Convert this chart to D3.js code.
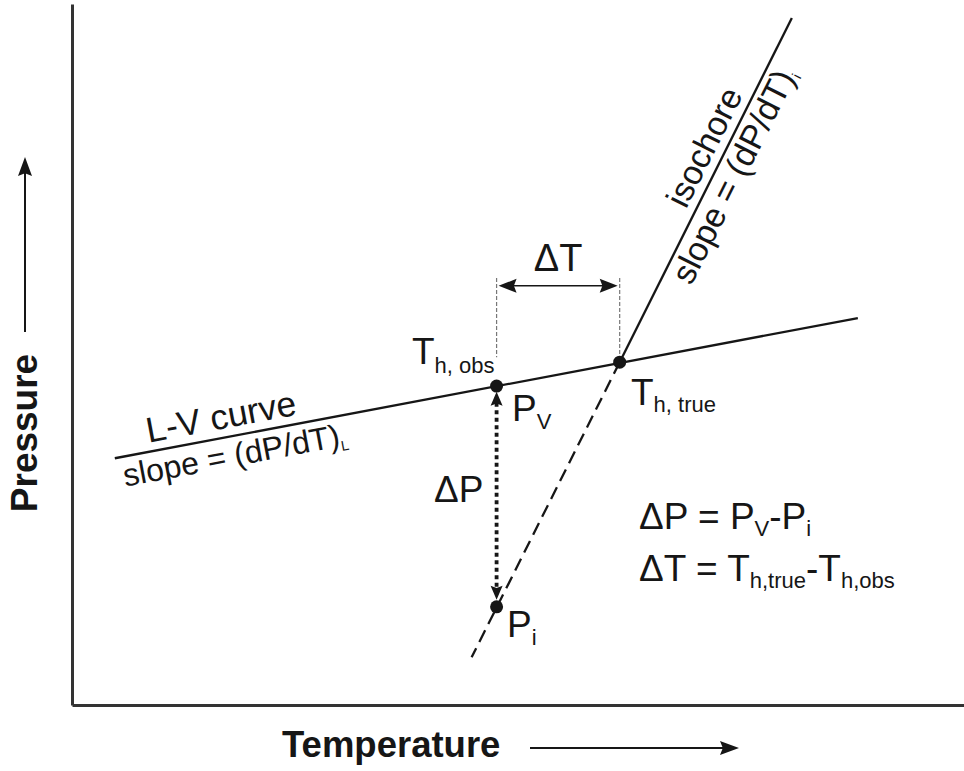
<!DOCTYPE html>
<html>
<head>
<meta charset="utf-8">
<script src="https://cdn.jsdelivr.net/npm/d3@7"></script>
<style>
  body { margin: 0; background: #fff; }
  text { font-family: "Liberation Sans", Arial, sans-serif; fill: #161616; }
</style>
</head>
<body>
<div id="chart"></div>
<script>
// schematic values, arbitrary units: T across, P up, both 0-100
var lvCurve = [[4.8, 35.2], [88.1, 55.2]];
var isochore = [[61.4, 48.9], [80.7, 98.0]];
var isochoreExt = [[61.4, 48.9], [44.8, 6.8]];
var dots = [[47.6, 45.5], [61.4, 48.9], [47.6, 14.0]];
var deltaT = [[47.6, 59.8], [61.4, 59.8]];
var guides = [[[47.6, 60.9], [47.6, 49.6]], [[61.4, 60.9], [61.4, 50.0]]];
var deltaP = [[47.6, 44.7], [47.6, 15.0]];

var svgWidth = 964;
var svgHeight = 771;
var margin = {top: 4, right: 0, bottom: 66, left: 72};
var ink = "#161616";

var svg = d3.select("#chart").append("svg")
  .attr("width", svgWidth)
  .attr("height", svgHeight);

var x = d3.scaleLinear().domain([0, 100]).range([margin.left, svgWidth - margin.right]);
var y = d3.scaleLinear().domain([0, 100]).range([svgHeight - margin.bottom, margin.top]);
var line = d3.line().x(d => x(d[0])).y(d => y(d[1]));

// filled arrow head, tip at (tx,ty) pointing away from (fx,fy)
function head(fx, fy, tx, ty, len, wid) {
  var a = Math.atan2(ty - fy, tx - fx);
  var c = Math.cos(a), s = Math.sin(a);
  var bx = tx - c * len, by = ty - s * len;
  var nx = tx - c * len * 0.85, ny = ty - s * len * 0.85;
  svg.append("path")
    .attr("d", `M${tx},${ty} L${bx - s * wid / 2},${by + c * wid / 2} L${nx},${ny} L${bx + s * wid / 2},${by - c * wid / 2} Z`)
    .attr("fill", ink);
}
function arrow(x1, y1, x2, y2, len, wid, both) {
  head(x1, y1, x2, y2, len, wid);
  if (both) head(x2, y2, x1, y1, len, wid);
}

// axes, no ticks
var xAxis = d3.axisBottom(x).tickValues([]).tickSizeOuter(0);
var yAxis = d3.axisLeft(y).tickValues([]).tickSizeOuter(0);
svg.append("g").attr("transform", `translate(0,${y(0)})`).call(xAxis);
svg.append("g").attr("transform", `translate(${x(0)},0)`).call(yAxis);
svg.selectAll(".domain").attr("stroke", "#333").attr("stroke-width", 3);

// axis titles with arrows
svg.append("text")
  .attr("transform", `translate(37,${y(38.8)}) rotate(-90)`)
  .attr("text-anchor", "middle")
  .attr("font-size", 37).attr("font-weight", "bold")
  .text("Pressure");
svg.append("line")
  .attr("x1", 25).attr("x2", 25)
  .attr("y1", 332).attr("y2", 165)
  .attr("stroke", ink).attr("stroke-width", 2);
arrow(25, 332, 25, 157, 19, 14);

svg.append("text")
  .attr("x", 282).attr("y", 757)
  .attr("font-size", 36.5).attr("font-weight", "bold")
  .text("Temperature");
svg.append("line")
  .attr("x1", 530).attr("x2", 730)
  .attr("y1", 748).attr("y2", 748)
  .attr("stroke", ink).attr("stroke-width", 2);
arrow(530, 748, 739, 748, 19, 14);

// guides for delta T
svg.selectAll(".guide").data(guides).enter().append("path")
  .attr("class", "guide")
  .attr("d", line)
  .attr("stroke", "#777").attr("stroke-width", 1.2)
  .attr("stroke-dasharray", "4 2");

var dt0 = [x(deltaT[0][0]) + 2, y(deltaT[0][1])];
var dt1 = [x(deltaT[1][0]) - 2, y(deltaT[1][1])];
svg.append("line")
  .attr("x1", dt0[0] + 10).attr("y1", dt0[1])
  .attr("x2", dt1[0] - 10).attr("y2", dt1[1])
  .attr("stroke", ink).attr("stroke-width", 1.6);
arrow(dt0[0], dt0[1], dt1[0], dt1[1], 18, 14, true);

// main curves
svg.append("path").attr("d", line(lvCurve))
  .attr("stroke", ink).attr("stroke-width", 2.3).attr("fill", "none");
svg.append("path").attr("d", line(isochore))
  .attr("stroke", ink).attr("stroke-width", 2.3).attr("fill", "none");
svg.append("path").attr("d", line(isochoreExt))
  .attr("stroke", ink).attr("stroke-width", 2.3).attr("fill", "none")
  .attr("stroke-dasharray", "13 7");

// delta P dotted arrow
var dp0 = [x(deltaP[0][0]), y(deltaP[0][1])];
var dp1 = [x(deltaP[1][0]), y(deltaP[1][1])];
svg.append("line")
  .attr("x1", dp0[0]).attr("y1", dp0[1] + 11)
  .attr("x2", dp1[0]).attr("y2", dp1[1] - 11)
  .attr("stroke", ink).attr("stroke-width", 3.8)
  .attr("stroke-dasharray", "4 3.5");
arrow(dp0[0], dp0[1], dp1[0], dp1[1], 14, 12, true);

svg.selectAll(".dot").data(dots).enter().append("circle")
  .attr("class", "dot")
  .attr("cx", d => x(d[0])).attr("cy", d => y(d[1]))
  .attr("r", 6.5).attr("fill", ink);

// text with subscripts: parts = [[text, isSub], ...]
function label(g, px, py, size, subSize, parts, shift) {
  var t = g.append("text").attr("x", px).attr("y", py).attr("font-size", size);
  var low = false;
  parts.forEach(function(p) {
    var s = t.append("tspan").text(p[0]);
    if (p[1] && !low) { s.attr("dy", shift).attr("font-size", subSize); low = true; }
    else if (p[1]) { s.attr("font-size", subSize); }
    else if (low) { s.attr("dy", -shift); low = false; }
  });
  return t;
}

svg.append("text").attr("x", (x(deltaT[0][0]) + x(deltaT[1][0])) / 2).attr("y", 271)
  .attr("text-anchor", "middle").attr("font-size", 38).text("\u0394T");
label(svg, 412, 364, 37, 22, [["T"], ["h, obs", 1]], 9);
label(svg, 631, 405, 37, 22, [["T"], ["h, true", 1]], 7);
label(svg, 512, 421, 37, 22, [["P"], ["V", 1]], 8);
label(svg, 434, 502, 37, 0, [["\u0394P"]], 0);
label(svg, 507, 637, 37, 22, [["P"], ["i", 1]], 8);
label(svg, 639, 529, 37, 22, [["\u0394P = P"], ["V", 1], ["-P"], ["i", 1]], 7);
label(svg, 639, 581, 37, 22, [["\u0394T = T"], ["h,true", 1], ["-T"], ["h,obs", 1]], 7);

// labels running along a line
function along(pts, dist, off, size, parts, sub) {
  var p0 = [x(pts[0][0]), y(pts[0][1])];
  var p1 = [x(pts[1][0]), y(pts[1][1])];
  var ang = Math.atan2(p1[1] - p0[1], p1[0] - p0[0]) * 180 / Math.PI;
  var g = svg.append("g").attr("transform", `translate(${p0[0]},${p0[1]}) rotate(${ang})`);
  label(g, dist, off, size, sub, parts, 5);
}
along(lvCurve, 36, -9, 35.5, [["L-V curve"]], 14);
along(lvCurve, 5, 30, 32, [["slope = (dP/dT)"], ["L", 1]], 14);
along(isochore, 166, -9, 34, [["isochore"]], 14);
along(isochore, 100, 30, 34, [["slope = (dP/dT)"], ["i", 1]], 14);
</script>
</body>
</html>
